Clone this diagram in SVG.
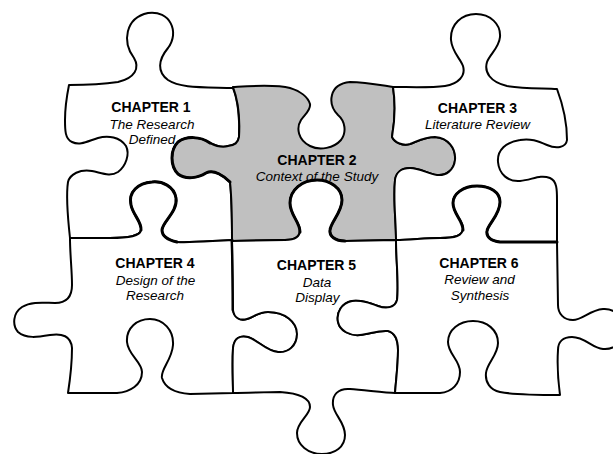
<svg xmlns="http://www.w3.org/2000/svg" width="613" height="454" viewBox="0 0 613 454">
<style>
.pc{fill:#fff;stroke:#000;stroke-width:2;stroke-linejoin:round}
.grey{fill:#c0c0c0}
.bold{fill:none;stroke:#000;stroke-width:3;stroke-linecap:round}
.t{font-family:"Liberation Sans",Arial,sans-serif;text-anchor:middle;fill:#000}
.h{font-size:14px;font-weight:bold}
.i{font-size:13.5px;font-style:italic}
</style>
<rect width="613" height="454" fill="#fff"/>
<g id="piece1">
<path class="pc" d="M69,85 C90,85 105,84 118,82 C135,78 140,68 134,58 C122,42 125,18 148,13 C170,10 180,32 168,48 C158,60 157,72 168,80 C180,88 200,87 233,88 C238,100 240,120 239,137 C238,143 235,145 228,146 C222,148 216,146 210,143 C200,136 186,136 178,142 C170,150 170,166 178,174 C186,180 198,178 206,173 C214,169 224,176 230,182 C232,200 232,220 232,240 C210,241 190,243 177,242 C168,240 162,236 162,230 C162,222 178,212 176,198 C174,186 162,181 152,182 C138,183 128,192 131,205 C133,215 142,222 141,230 C140,236 130,238 110,238 L70,238 C68,220 66,195 68,182 C70,174 80,169 92,171 C102,173 110,177 118,172 C126,166 130,154 126,146 C120,137 108,135 98,138 C88,141 80,146 72,142 C65,139 65,130 65,120 C65,105 67,95 69,85 Z"/>
<text class="t h" x="151" y="112">CHAPTER 1</text>
<text class="t i" x="152" y="128.5">The Research</text>
<text class="t i" x="152" y="144">Defined</text>
</g>
<g id="piece2">
<path class="pc grey" d="M233,87 C250,86 275,84 290,88 C300,91 308,97 310,104 C311,110 305,114 301,120 C296,128 298,140 310,146 C320,151 334,148 341,140 C347,132 345,121 338,115 C333,110 330,103 332,95 C334,87 340,83 350,82 C365,82 380,85 393,87 C395,100 395,120 392,137 C395,143 403,146 410,144 C418,141 425,137 435,137 C448,138 456,148 455,160 C454,170 446,176 437,175 C428,174 420,168 410,168 C402,168 396,172 395,180 C393,200 396,220 396,240 L345,241 C335,241 329,236 330,230 C331,222 342,212 342,200 C342,188 330,180 317,180 C302,180 290,190 290,203 C290,215 300,222 300,230 C300,237 295,240 285,240 L232,241 L232,240 C232,220 232,200 230,182 C224,176 214,169 206,173 C198,178 186,180 178,174 C170,166 170,150 178,142 C186,136 200,136 210,143 C216,146 222,148 228,146 C235,145 238,143 239,137 C240,120 238,100 233,87 Z"/>
<path class="bold" d="M230,182 C224,176 214,169 206,173 C198,178 186,180 178,174 C170,166 170,150 178,142 C186,136 200,136 210,143"/>
<text class="t h" x="317" y="165">CHAPTER 2</text>
<text class="t i" x="317" y="181" fill="#222">Context of the Study</text>
</g>
<g id="piece3">
<path class="pc" d="M393,87 C410,87 430,88 445,86 C458,84 466,76 463,66 C460,58 452,52 451,40 C450,24 462,14 476,14 C490,14 501,24 500,37 C499,48 490,54 487,62 C484,72 490,82 507,86 C525,89 545,88 557,89 C563,105 567,125 567,140 C566,148 556,149 547,145 C538,141 530,138 520,140 C506,142 497,150 498,162 C499,174 508,182 520,181 C532,180 540,174 550,178 C557,181 557,190 557,200 L557,242 L500,242 C491,241 486,237 487,231 C488,224 500,215 500,202 C500,192 490,186 477,186 C463,186 453,194 453,203 C453,214 463,220 463,228 C463,236 455,238 440,238 C425,238 410,240 396,240 C396,220 393,200 395,180 C396,172 402,168 410,168 C420,168 428,174 437,175 C446,176 454,170 455,160 C456,148 448,138 435,137 C425,137 418,141 410,144 C403,146 395,143 392,137 C395,120 395,100 393,87 Z"/>
<text class="t h" x="477.5" y="113">CHAPTER 3</text>
<text class="t i" x="477.5" y="129">Literature Review</text>
</g>
<g id="piece4">
<path class="pc" d="M70,238 L110,238 C130,238 140,236 141,230 C142,222 133,215 131,205 C128,192 138,183 152,182 C162,181 174,186 176,198 C178,212 162,222 162,230 C162,236 168,240 177,242 C190,243 210,241 232,240 C233,265 233,290 233,310 C234,318 240,321 247,319 C254,317 258,312 268,312 C285,312 297,322 297,334 C297,346 288,353 278,352 C266,351 258,340 248,337 C240,335 234,338 233,348 C232,365 233,380 233,393 L190,394 C175,393 165,388 162,378 C160,370 172,360 173,345 C174,330 163,319 150,319 C137,319 126,328 127,342 C128,355 142,362 142,372 C142,385 130,392 117,393 L68,393 C70,380 72,360 72,348 C71,336 62,333 50,335 C38,337 26,339 18,332 C12,325 13,313 22,307 C32,301 45,303 55,303 C66,303 72,298 72,285 C72,270 70,255 70,238 Z"/>
<path class="bold" d="M141,230 C142,222 133,215 131,205 C128,192 138,183 152,182 C162,181 174,186 176,198 C178,212 162,222 162,230 C162,236 168,240 177,242"/>
<path class="bold" d="M232,240 C233,265 233,290 233,310"/>
<text class="t h" x="155" y="268">CHAPTER 4</text>
<text class="t i" x="155.5" y="284.5">Design of the</text>
<text class="t i" x="155" y="300">Research</text>
</g>
<g id="piece5">
<path class="pc" d="M232,241 L285,240 C295,240 300,237 300,230 C300,222 290,215 290,203 C290,190 302,180 317,180 C330,180 342,188 342,200 C342,212 331,222 330,230 C329,236 335,241 345,241 L396,240 C396,260 399,285 397,300 C395,308 386,309 378,306 C370,303 362,300 352,301 C342,303 336,312 338,322 C340,331 350,336 360,335 C370,334 378,330 388,331 C395,333 398,340 398,350 C398,365 396,380 395,393 C385,393 365,390 350,389 C338,388 332,395 333,405 C334,415 345,422 345,435 C345,447 335,454 322,454 C308,454 297,445 297,433 C297,422 310,415 310,407 C310,397 295,393 280,392 C265,392 248,393 233,393 C233,380 232,365 233,348 C234,338 240,335 248,337 C258,340 266,351 278,352 C288,353 297,346 297,334 C297,322 285,312 268,312 C258,312 254,317 247,319 C240,321 234,318 233,310 C233,290 233,265 232,241 Z"/>
<path class="bold" d="M300,232 C300,222 290,215 290,203 C290,190 302,180 317,180 C330,180 342,188 342,200 C342,212 331,222 330,230 C329,236 335,241 345,241"/>
<text class="t h" x="316.5" y="270">CHAPTER 5</text>
<text class="t i" x="317" y="286.5">Data</text>
<text class="t i" x="317.5" y="302">Display</text>
</g>
<g id="piece6">
<path class="pc" d="M396,240 C410,240 425,238 440,238 C455,238 463,236 463,228 C463,220 453,214 453,203 C453,194 463,186 477,186 C490,186 500,192 500,202 C500,215 488,224 487,231 C486,237 491,241 500,242 L557,242 L558,305 C558,314 564,320 573,320 C582,320 590,310 603,309 C615,308 624,318 624,330 C624,342 614,350 603,349 C592,348 585,337 572,337 C563,337 558,342 558,350 C557,365 558,380 560,395 C540,395 510,394 500,392 C490,390 485,382 486,373 C487,363 498,355 498,343 C498,330 487,321 473,321 C459,321 448,330 448,342 C448,354 460,360 460,372 C460,384 452,392 440,393 L395,393 C396,380 398,365 398,350 C398,340 395,333 388,331 C378,330 370,334 360,335 C350,336 340,331 338,322 C336,312 342,303 352,301 C362,300 370,303 378,306 C386,309 395,308 397,300 C399,285 396,260 396,240 Z"/>
<path class="bold" d="M463,230 C463,220 453,214 453,203 C453,194 463,186 477,186 C490,186 500,192 500,202 C500,215 488,224 487,231 C486,237 491,241 500,242 L557,242"/>
<text class="t h" x="479" y="268">CHAPTER 6</text>
<text class="t i" x="479.5" y="284">Review and</text>
<text class="t i" x="480" y="300">Synthesis</text>
</g>
</svg>
